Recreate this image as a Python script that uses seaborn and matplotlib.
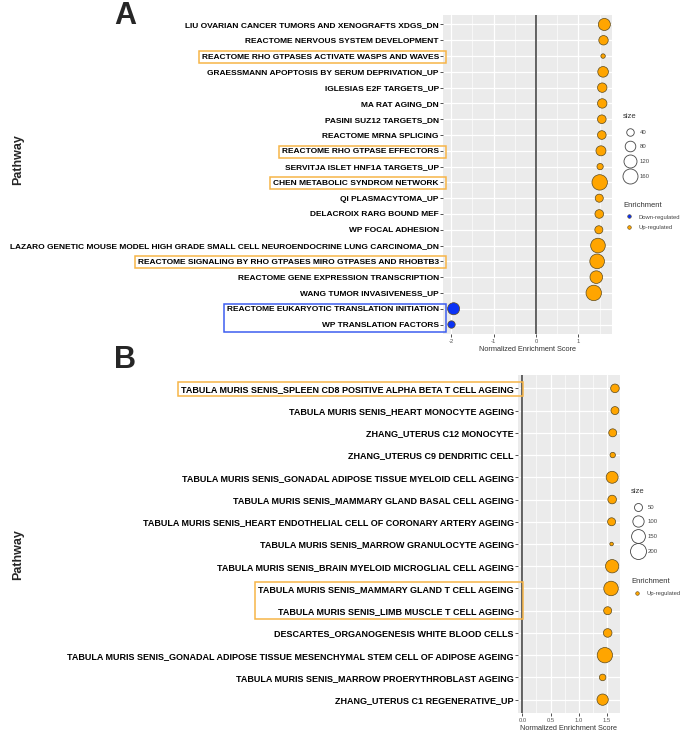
import matplotlib
matplotlib.use('Agg')
import matplotlib.pyplot as plt
import seaborn as sns
import pandas as pd
from matplotlib.lines import Line2D
from matplotlib.patches import Rectangle
from matplotlib.ticker import MultipleLocator

# ---- panel A data ----
pathways_a = [
    'LIU OVARIAN CANCER TUMORS AND XENOGRAFTS XDGS_DN',
    'REACTOME NERVOUS SYSTEM DEVELOPMENT',
    'REACTOME RHO GTPASES ACTIVATE WASPS AND WAVES',
    'GRAESSMANN APOPTOSIS BY SERUM DEPRIVATION_UP',
    'IGLESIAS E2F TARGETS_UP',
    'MA RAT AGING_DN',
    'PASINI SUZ12 TARGETS_DN',
    'REACTOME MRNA SPLICING',
    'REACTOME RHO GTPASE EFFECTORS',
    'SERVITJA ISLET HNF1A TARGETS_UP',
    'CHEN METABOLIC SYNDROM NETWORK',
    'QI PLASMACYTOMA_UP',
    'DELACROIX RARG BOUND MEF',
    'WP FOCAL ADHESION',
    'LAZARO GENETIC MOUSE MODEL HIGH GRADE SMALL CELL NEUROENDOCRINE LUNG CARCINOMA_DN',
    'REACTOME SIGNALING BY RHO GTPASES MIRO GTPASES AND RHOBTB3',
    'REACTOME GENE EXPRESSION TRANSCRIPTION',
    'WANG TUMOR INVASIVENESS_UP',
    'REACTOME EUKARYOTIC TRANSLATION INITIATION',
    'WP TRANSLATION FACTORS',
]
nes_a = [1.61, 1.59, 1.58, 1.58, 1.56, 1.56, 1.55, 1.55, 1.53, 1.51,
         1.50, 1.49, 1.49, 1.48, 1.46, 1.44, 1.42, 1.36, -1.94, -1.99]
size_a = [103, 63, 14, 80, 63, 63, 53, 53, 71, 28,
          169, 46, 53, 46, 152, 152, 113, 169, 103, 39]
highlight_a = ['REACTOME RHO GTPASES ACTIVATE WASPS AND WAVES',
               'REACTOME RHO GTPASE EFFECTORS',
               'CHEN METABOLIC SYNDROM NETWORK',
               'REACTOME SIGNALING BY RHO GTPASES MIRO GTPASES AND RHOBTB3']
group_a = ['REACTOME EUKARYOTIC TRANSLATION INITIATION', 'WP TRANSLATION FACTORS']
legend_sizes_a = [40, 80, 120, 160]

# ---- panel B data ----
pathways_b = [
    'TABULA MURIS SENIS_SPLEEN CD8 POSITIVE ALPHA BETA T CELL AGEING',
    'TABULA MURIS SENIS_HEART MONOCYTE AGEING',
    'ZHANG_UTERUS C12 MONOCYTE',
    'ZHANG_UTERUS C9 DENDRITIC CELL',
    'TABULA MURIS SENIS_GONADAL ADIPOSE TISSUE MYELOID CELL AGEING',
    'TABULA MURIS SENIS_MAMMARY GLAND BASAL CELL AGEING',
    'TABULA MURIS SENIS_HEART ENDOTHELIAL CELL OF CORONARY ARTERY AGEING',
    'TABULA MURIS SENIS_MARROW GRANULOCYTE AGEING',
    'TABULA MURIS SENIS_BRAIN MYELOID MICROGLIAL CELL AGEING',
    'TABULA MURIS SENIS_MAMMARY GLAND T CELL AGEING',
    'TABULA MURIS SENIS_LIMB MUSCLE T CELL AGEING',
    'DESCARTES_ORGANOGENESIS WHITE BLOOD CELLS',
    'TABULA MURIS SENIS_GONADAL ADIPOSE TISSUE MESENCHYMAL STEM CELL OF ADIPOSE AGEING',
    'TABULA MURIS SENIS_MARROW PROERYTHROBLAST AGEING',
    'ZHANG_UTERUS C1 REGENERATIVE_UP',
]
nes_b = [1.65, 1.65, 1.61, 1.61, 1.60, 1.60, 1.59, 1.59, 1.60, 1.58,
         1.52, 1.52, 1.47, 1.43, 1.43]
size_b = [58, 50, 50, 23, 112, 58, 50, 10, 139, 165,
          50, 58, 184, 34, 100]
highlight_b = ['TABULA MURIS SENIS_SPLEEN CD8 POSITIVE ALPHA BETA T CELL AGEING']
group_b = ['TABULA MURIS SENIS_MAMMARY GLAND T CELL AGEING',
           'TABULA MURIS SENIS_LIMB MUSCLE T CELL AGEING']
legend_sizes_b = [50, 100, 150, 200]

colors = {'Down-regulated': '#0a32f5', 'Up-regulated': '#ffa500'}

sns.set_theme(style='darkgrid', rc={'axes.facecolor': '#EBEBEB', 'grid.color': 'white'})
plt.rcParams['font.family'] = ['Liberation Sans', 'DejaVu Sans']

W, H = 683, 732
fig = plt.figure(figsize=(W / 100, H / 100), dpi=100)


def box(l, t, r, b):
    return [l / W, 1 - b / H, (r - l) / W, (b - t) / H]


def panel(rect, paths, nes, sizes, k, xlim, major, ticklabels, fs):
    df = pd.DataFrame({'Pathway': paths, 'NES': nes, 'size': sizes})
    df['Enrichment'] = ['Up-regulated' if v > 0 else 'Down-regulated' for v in df['NES']]
    ax = fig.add_axes(rect)
    ax.axvline(0, color='#3a3a3a', lw=1.1, zorder=1)
    sns.scatterplot(data=df, x='NES', y='Pathway', hue='Enrichment', palette=colors,
                    size='size', sizes=(0, k * 200), size_norm=(0, 200),
                    edgecolor='#5c4a1e', linewidth=0.5, legend=False, ax=ax, zorder=3)
    ax.set_xlim(*xlim)
    ax.set_ylim(len(paths) - 0.4, -0.6)
    ax.xaxis.set_major_locator(MultipleLocator(major))
    ax.xaxis.set_minor_locator(MultipleLocator(major / 2))
    ax.grid(which='major', color='white', lw=0.9)
    ax.grid(which='minor', axis='x', color='white', lw=0.45)
    ax.tick_params(axis='y', which='major', length=2, width=0.6, color='#333333',
                   pad=1, labelsize=fs, left=True)
    ax.tick_params(axis='x', which='major', length=2, width=0.6, color='#333333',
                   pad=1.5, labelsize=4.2, labelcolor='#555555', bottom=True)
    ax.tick_params(which='minor', length=0)
    for lab in ax.get_yticklabels():
        lab.set_fontweight('bold')
        lab.set_color('black')
    locs = [t for t in ax.get_xticks() if xlim[0] <= t <= xlim[1]]
    ax.set_xticks(locs)
    ax.set_xticklabels(ticklabels)
    ax.set_xlabel('Normalized Enrichment Score', fontsize=5.3, color='#333333', labelpad=1.5)
    ax.set_ylabel('')
    for s in ax.spines.values():
        s.set_visible(False)
    return ax


ax_a = panel(box(443, 15, 612, 334), pathways_a, nes_a, size_a, 0.73,
             (-2.19, 1.79), 1.0, ['-2', '-1', '0', '1'], 6.0)
ax_b = panel(box(518, 375, 620, 713), pathways_b, nes_b, size_b, 0.66,
             (-0.08, 1.74), 0.5, ['0.0', '0.5', '1.0', '1.5'], 6.45)

fig.text(125 / W, 1 - 24 / H, 'A', fontsize=22, fontweight='bold', ha='center', va='baseline')
fig.text(125 / W, 1 - 368 / H, 'B', fontsize=22, fontweight='bold', ha='center', va='baseline')
fig.text(18 / W, 1 - 160 / H, 'Pathway', fontsize=9, fontweight='bold', rotation=90,
         ha='center', va='center')
fig.text(18 / W, 1 - 555 / H, 'Pathway', fontsize=9, fontweight='bold', rotation=90,
         ha='center', va='center')


def legends(x, y_size, y_enr, values, k, levels):
    circ = [Line2D([], [], ls='', marker='o', markersize=(k * v) ** 0.5,
                   markerfacecolor='none', markeredgecolor='#444444', markeredgewidth=0.6)
            for v in values]
    lg = fig.legend(circ, [str(v) for v in values], title='size', loc='upper left',
                    bbox_to_anchor=(x / W, 1 - y_size / H), frameon=False, fontsize=4.3,
                    title_fontsize=5.5, labelspacing=1.6, handlelength=2.2,
                    handletextpad=0.6, borderpad=0, alignment='left')
    for t in lg.get_texts():
        t.set_color('#444444')
    lg.get_title().set_color('#333333')
    dots = [Line2D([], [], ls='', marker='o', markersize=2.6, markerfacecolor=colors[l],
                   markeredgecolor='#5c4a1e', markeredgewidth=0.4) for l in levels]
    lg2 = fig.legend(dots, levels, title='Enrichment', loc='upper left',
                     bbox_to_anchor=(x / W, 1 - y_enr / H), frameon=False, fontsize=4.2,
                     title_fontsize=5.5, labelspacing=0.95, handlelength=2.2,
                     handletextpad=0.5, borderpad=0, alignment='left')
    for t in lg2.get_texts():
        t.set_color('#444444')
    lg2.get_title().set_color('#333333')


legends(620, 110, 199, legend_sizes_a, 0.73, ['Down-regulated', 'Up-regulated'])
legends(628, 485, 575, legend_sizes_b, 0.66, ['Up-regulated'])

# highlight boxes around selected pathway labels
fig.canvas.draw()
rend = fig.canvas.get_renderer()
inv = fig.transFigure.inverted()


def frame(ax, names, color, extra):
    boxes = [lab.get_window_extent(rend) for lab in ax.get_yticklabels()
             if lab.get_text() in names]
    x0 = min(b.x0 for b in boxes) - 3
    y0 = min(b.y0 for b in boxes) - 2.5
    y1 = max(b.y1 for b in boxes) + 2.5
    x1 = ax.get_window_extent(rend).x0 + extra
    (fx0, fy0), (fx1, fy1) = inv.transform([(x0, y0), (x1, y1)])
    fig.add_artist(Rectangle((fx0, fy0), fx1 - fx0, fy1 - fy0, transform=fig.transFigure,
                             fill=False, edgecolor=color, lw=1.1, zorder=5))


for name in highlight_a:
    frame(ax_a, [name], '#f7b548', 3)
frame(ax_a, group_a, '#3d5ef0', 3)
for name in highlight_b:
    frame(ax_b, [name], '#f7b548', 5)
frame(ax_b, group_b, '#f7b548', 5)

fig.savefig('out.png', dpi=100)
